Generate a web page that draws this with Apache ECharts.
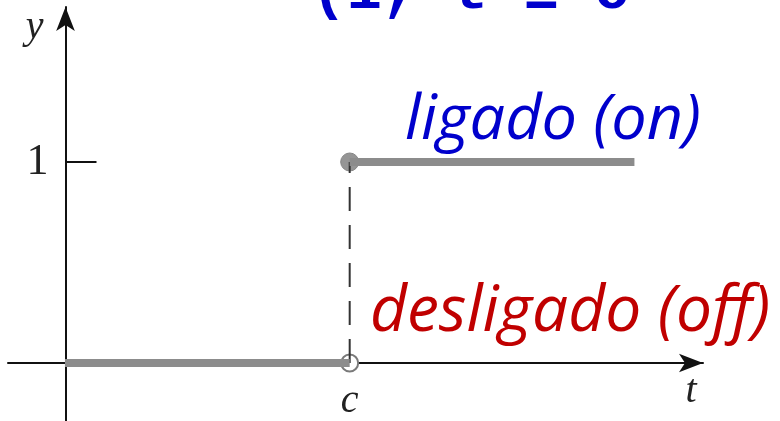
<!DOCTYPE html>
<html lang="pt">
<head>
<meta charset="UTF-8">
<title>Degrau unitário</title>
<script src="https://cdn.jsdelivr.net/npm/echarts@6.0.0/dist/echarts.min.js"></script>
<style>
  html, body { margin: 0; padding: 0; background: #fff; }
  #main { width: 780px; height: 421px; }
</style>
</head>
<body>
<div id="main"></div>
<script>
// step function u(t - c): 0 before c, 1 from c on
const offSeg = [[0, 0], [1, 0]];
const onSeg = [[1, 1], [2.0, 1]];
const jumpSeg = [[1, 0], [1, 1]];
const closedPt = [[1, 1]];
const openPt = [[1, 0]];
const yTickVals = [1];
const xTickVals = [1];
const xTickText = ['c'];

const gray = '#8c8c8c';
const serif = '"Liberation Serif", "DejaVu Serif", serif';
const sans = '"Open Sans", "Noto Sans", sans-serif';

var chart = echarts.init(document.getElementById('main'));

// axes are moved onto t = 0 / y = 0 with offset (onZero leaves the labels at the grid edge)
var option = {
  animation: false,
  grid: { left: 8, right: 77, top: 7, bottom: 0, outerBoundsMode: 'none' },
  xAxis: {
    type: 'value',
    min: -0.2, max: 2.2408,
    offset: -58,
    splitLine: { show: false },
    axisLine: {
      onZero: false,
      symbol: ['none', 'arrow'], symbolSize: [14, 24],
      lineStyle: { color: '#111', width: 2 }
    },
    axisTick: { show: false },
    axisLabel: {
      customValues: xTickVals,
      formatter: function (v) { return xTickText[xTickVals.indexOf(v)] || ''; },
      margin: 18,
      fontFamily: serif, fontStyle: 'italic', fontSize: 40, color: '#222'
    },
    name: '\nt', nameLocation: 'end', nameGap: -12,
    nameTextStyle: {
      fontFamily: serif, fontStyle: 'italic', fontSize: 40, lineHeight: 56, color: '#222',
      align: 'center', verticalAlign: 'middle'
    }
  },
  yAxis: {
    type: 'value',
    min: -0.2886, max: 1.7711,
    offset: -57.5,
    splitLine: { show: false },
    axisLine: {
      onZero: false,
      symbol: ['none', 'arrow'], symbolSize: [14, 24],
      lineStyle: { color: '#111', width: 2 }
    },
    axisTick: {
      customValues: yTickVals, inside: true, length: 31,
      lineStyle: { color: '#111', width: 2 }
    },
    axisLabel: {
      customValues: yTickVals,
      margin: 17,
      fontFamily: serif, fontSize: 44, color: '#222'
    },
    name: 'y', nameLocation: 'end', nameGap: -20,
    nameTextStyle: {
      fontFamily: serif, fontStyle: 'italic', fontSize: 40, color: '#222',
      align: 'right', verticalAlign: 'middle', padding: [0, 22, 0, 0]
    }
  },
  graphic: [
    {
      type: 'text', left: 311, top: -36,
      style: {
        text: '(1, t ≥ c', fill: '#0000cc',
        font: 'bold 59px "Liberation Mono", "DejaVu Sans Mono", monospace'
      }
    },
    {
      type: 'text', left: 405, top: 90,
      style: { text: 'ligado (on)', fill: '#0000cc', font: 'italic 63px ' + sans }
    },
    {
      type: 'text', left: 370, top: 281,
      style: { text: 'desligado (off)', fill: '#c00000', font: 'italic 64px ' + sans }
    }
  ],
  series: [
    {
      type: 'line', data: jumpSeg, symbol: 'none', silent: true,
      lineStyle: { color: '#333', width: 2, type: [24, 14] }
    },
    {
      type: 'line', data: offSeg, symbol: 'none', silent: true,
      lineStyle: { color: gray, width: 8, cap: 'butt' }
    },
    {
      type: 'line', data: onSeg, symbol: 'none', silent: true,
      lineStyle: { color: gray, width: 8, cap: 'butt' }
    },
    {
      type: 'scatter', data: closedPt, symbolSize: 18, silent: true,
      itemStyle: { color: '#959595', borderColor: '#858585', borderWidth: 1, opacity: 1 }
    },
    {
      type: 'scatter', data: openPt, symbolSize: 17, silent: true,
      itemStyle: { color: '#fff', borderColor: '#7a7a7a', borderWidth: 2, opacity: 1 }
    }
  ]
};

chart.setOption(option);
</script>
</body>
</html>
